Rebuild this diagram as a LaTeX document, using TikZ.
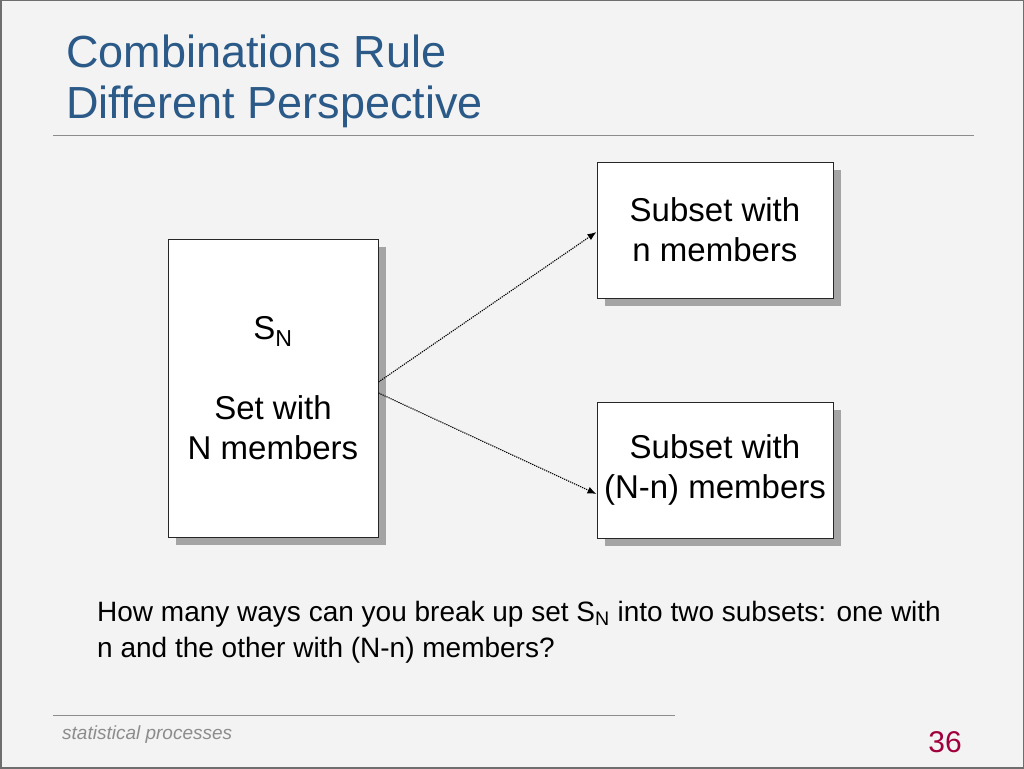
\documentclass[tikz,border=0pt]{standalone}
\usepackage{fontspec}
\setmainfont{Liberation Sans}
\usepackage{tikz}
\usetikzlibrary{shapes, arrows.meta, positioning, calc, shadows}
\definecolor{slidebg}{HTML}{F3F3F3}
\definecolor{slideframe}{HTML}{6E6E6E}
\definecolor{titleblue}{HTML}{2B5A88}
\definecolor{pagered}{HTML}{A0003C}
\definecolor{rulegray}{HTML}{8C8C8C}
\definecolor{shadowgray}{HTML}{A4A4A4}

\begin{document}
\begin{tikzpicture}[
			x=1pt, y=-1pt,
			>={Latex[length=9pt,width=7pt]},
			box/.style={draw=black!85, fill=white, line width=1pt, align=center, inner sep=0pt,
				drop shadow={shadow xshift=8pt, shadow yshift=-8pt, fill=shadowgray, opacity=1},
				font=\fontsize{33}{40}\selectfont},
			setbox/.style={box, minimum width=210pt, minimum height=298pt},
			subbox/.style={box, minimum width=236pt, minimum height=136pt},
			flow/.style={->, line width=1.1pt, dash pattern=on 1.2pt off 1pt},
			rule/.style={draw=rulegray, line width=1pt}
			]
			% --- Tlo slajdu ---
			\useasboundingbox (0,0) rectangle (1024,768);
			\fill[slidebg] (0,0) rectangle (1024,768);
			\draw[slideframe, line width=3pt] (0,0) rectangle (1024,768);
			
			% --- Tytul ---
			\node[anchor=base west, align=left, text=titleblue, inner sep=0pt,
				font=\fontsize{45}{51}\selectfont] (title) at (66,118) {Combinations Rule\\Different Perspective};
			\draw[rule] (53,135) -- (974,135);
			
			% --- Definicja wezlow (zbiory) ---
			\node[setbox] (set) at (273,388) {S\textsubscript{N}\\[40pt]Set with\\N members}; % Zbior S_N
			\node[subbox] (subn) at (715,230) {Subset with\\n members}; % Podzbior n
			\node[subbox, below=103pt of subn] (subrest) {Subset with\\(N-n) members}; % Podzbior N-n
			
			% --- Strzalki ---
			\draw[flow] ([yshift=6pt]set.east) -- ([yshift=-2pt]subn.west);
			\draw[flow] ([yshift=-5pt]set.east) -- ([yshift=-24pt]subrest.west);
			
			% --- Pytanie ---
			\node[anchor=base west, align=left, inner sep=0pt,
				font=\fontsize{28}{36}\selectfont] (question) at (97,657)
				{How many ways can you break up set S\textsubscript{N} into two subsets: one with\\n and the other with (N-n) members?};
			
			% --- Stopka ---
			\draw[rule] (53,715) -- (675,715);
			\node[anchor=base west, inner sep=0pt, text=rulegray,
				font=\fontsize{19}{21}\itshape] (footer) at (62,739) {statistical processes};
			\node[anchor=base east, inner sep=0pt, text=pagered,
				font=\fontsize{30}{34}\selectfont] (page) at (962,752) {36};
			
		\end{tikzpicture}
\end{document}
